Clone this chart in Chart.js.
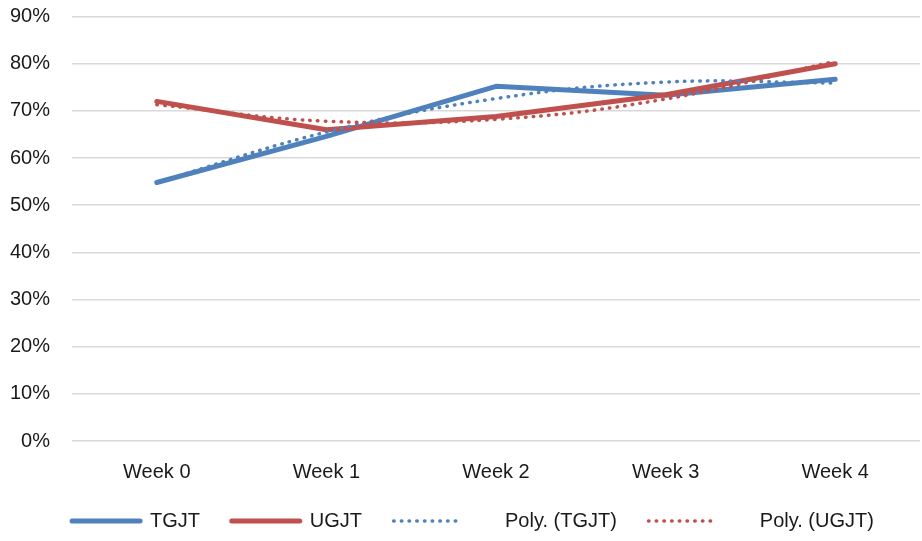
<!DOCTYPE html>
<html lang="en">
  <head>
    <meta charset="UTF-8" />
    <title>TGJT vs UGJT</title>
    <script src="https://cdn.jsdelivr.net/npm/chart.js"></script>
    <style>
      body {
        margin: 0;
        background: #fff;
      }
      .wrap {
        width: 922px;
        height: 541px;
      }
    </style>
  </head>
  <body>
    <div class="wrap"><canvas id="chart"></canvas></div>

    <script>
      // values (percent)
      const weeks = ["Week 0", "Week 1", "Week 2", "Week 3", "Week 4"];
      const tgjt = [54.8, 64.6, 75.2, 73.3, 76.7];
      const ugjt = [72.0, 66.0, 68.8, 73.4, 80.0];
      const polyTgjt = [54.8, 65.5, 72.6, 76.1, 75.9];
      const polyUgjt = [71.3, 67.8, 68.2, 72.5, 80.5];
      const yTicks = [0, 10, 20, 30, 40, 50, 60, 70, 80, 90];

      const blue = "#4f81bd";
      const red = "#c0504d";
      const font = "'Liberation Sans', Arial, sans-serif";

      Chart.defaults.font.family = font;
      Chart.defaults.font.size = 20;
      Chart.defaults.color = "#1a1a1a";

      const solid = (label, data, color, order) => ({
        label,
        data,
        borderColor: color,
        backgroundColor: color,
        borderWidth: 5,
        borderCapStyle: "round",
        borderJoinStyle: "round",
        pointRadius: 0,
        pointStyle: "line",
        tension: 0,
        order,
      });

      const dotted = (label, data, color, order) => ({
        label,
        data,
        borderColor: color,
        backgroundColor: color,
        borderWidth: 3.5,
        borderDash: [0.5, 7.2],
        borderCapStyle: "round",
        pointRadius: 0,
        pointStyle: "line",
        tension: 0.4,
        order,
      });

      // nudge the legend row a bit to the right, like the original
      const legendShift = {
        id: "legendShift",
        afterLayout(chart) {
          chart.legend.left += 9;
          chart.legend.right += 9;
        },
      };

      new Chart(document.getElementById("chart"), {
        type: "line",
        data: {
          labels: weeks,
          datasets: [
            solid("TGJT", tgjt, blue, 4),
            solid("UGJT", ugjt, red, 3),
            dotted("Poly. (TGJT)", polyTgjt, blue, 2),
            dotted("Poly. (UGJT)", polyUgjt, red, 1),
          ],
        },
        plugins: [legendShift],
        options: {
          responsive: true,
          maintainAspectRatio: false,
          animation: false,
          layout: {
            autoPadding: false,
            padding: { left: 8, right: 2, top: 16.5, bottom: 0 },
          },
          scales: {
            x: {
              offset: true,
              grid: { display: false },
              border: { display: false },
              ticks: { padding: 11.5, color: "#1a1a1a" },
            },
            y: {
              min: 0,
              max: 90,
              afterBuildTicks: (axis) => {
                axis.ticks = yTicks.map((v) => ({ value: v }));
              },
              afterFit: (axis) => {
                axis.width = 64;
                axis.paddingTop = 0;
                axis.paddingBottom = 0;
              },
              grid: { color: "#d9d9d9", lineWidth: 1.5, drawTicks: false },
              border: { display: false },
              ticks: {
                padding: 22,
                color: "#1a1a1a",
                callback: (v) => v + "%",
              },
            },
          },
          plugins: {
            tooltip: { enabled: false },
            legend: {
              position: "bottom",
              labels: {
                usePointStyle: true,
                pointStyleWidth: 68,
                boxHeight: 20,
                padding: 15,
                color: "#1a1a1a",
                sort: (a, b) => a.datasetIndex - b.datasetIndex,
                generateLabels: (chart) => {
                  const items =
                    Chart.defaults.plugins.legend.labels.generateLabels(chart);
                  items.forEach((it) => {
                    const ds = chart.data.datasets[it.datasetIndex];
                    it.lineDash = ds.borderDash || [];
                    it.lineCap = "round";
                    it.lineWidth = ds.borderWidth;
                    it.strokeStyle = ds.borderColor;
                    if (it.datasetIndex >= 2) it.text = "      " + it.text;
                    if (it.datasetIndex < 3) it.text = it.text + "   ";
                  });
                  return items;
                },
              },
            },
          },
        },
      });
    </script>
  </body>
</html>
